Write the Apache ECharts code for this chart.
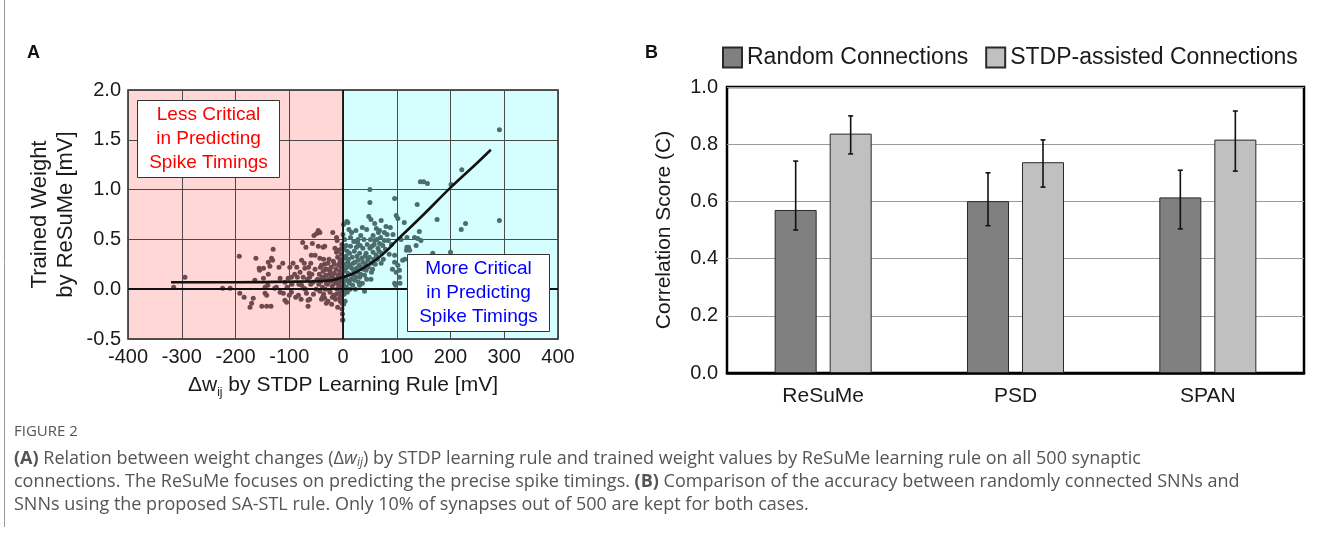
<!DOCTYPE html>
<html><head><meta charset="utf-8">
<script src="https://cdn.jsdelivr.net/npm/echarts@6/dist/echarts.min.js"></script>
<style>html,body{margin:0;padding:0;background:#fff}#c{width:1326px;height:533px}</style>
</head><body><div id="c"></div>
<script>
// ---------- Panel A data ----------
const xTicksA = [-400, -300, -200, -100, 0, 100, 200, 300, 400];
const yTicksA = [-0.5, 0.0, 0.5, 1.0, 1.5, 2.0];
// synapses with negative STDP weight change (less critical)
const negPoints = [
 [-315,0.02],[-294,0.12],[-224,0.01],[-210,0.01],[-193,0.33],[-192,-0.04],[-184,-0.08],[-173,-0.18],[-170,-0.14],[-167,-0.09],
 [-164,0.09],[-162,0.31],[-156,0.21],[-155,0.19],[-151,-0.17],[-148,0.11],[-148,0.21],[-145,-0.04],[-145,0.02],[-142,-0.06],
 [-142,-0.17],[-140,0.04],[-139,0.27],[-139,0.15],[-136,0.23],[-134,-0.17],[-133,0.31],[-131,0.29],[-130,0.40],[-127,0.01],
 [-124,0.02],[-119,0.22],[-117,0.11],[-117,-0.03],[-112,0.26],[-111,-0.04],[-108,-0.11],[-108,0.07],[-105,-0.13],[-104,0.02],
 [-102,0.11],[-100,-0.06],[-99,0.22],[-96,-0.03],[-96,0.12],[-95,0.05],[-93,0.26],[-90,0.15],[-88,-0.08],[-86,0.22],[-85,0.12],
 [-83,-0.06],[-82,0.05],[-80,0.17],[-78,-0.10],[-77,0.29],[-77,0.04],[-75,0.47],[-74,0.12],[-73,0.01],[-72,0.26],[-71,0.21],
 [-70,0.00],[-69,0.42],[-68,-0.04],[-66,0.10],[-65,-0.11],[-65,-0.17],[-64,0.22],[-63,0.16],[-62,-0.10],[-62,0.12],[-60,0.26],
 [-60,0.05],[-59,0.34],[-58,0.15],[-57,0.46],[-56,0.07],[-55,-0.05],[-54,0.54],[-52,0.34],[-52,0.20],[-50,0.00],[-49,0.09],
 [-49,0.56],[-47,0.10],[-46,0.59],[-46,0.43],[-45,0.05],[-44,0.15],[-43,0.57],[-43,0.31],[-43,-0.02],[-42,0.22],[-41,0.08],
 [-40,0.24],[-40,-0.10],[-39,0.12],[-38,-0.08],[-38,0.02],[-37,0.42],[-37,0.18],[-36,0.30],[-36,-0.05],[-35,0.10],[-34,0.43],
 [-34,0.25],[-34,-0.09],[-33,0.00],[-33,0.20],[-32,0.14],[-31,-0.14],[-31,0.06],[-30,0.20],[-29,0.05],[-28,0.26],[-28,-0.12],
 [-27,0.10],[-26,0.30],[-25,0.15],[-25,-0.01],[-24,-0.03],[-24,0.18],[-23,0.08],[-22,0.22],[-22,0.12],[-21,-0.15],[-20,0.03],
 [-20,-0.08],[-19,0.57],[-19,0.12],[-18,0.28],[-17,-0.06],[-16,0.16],[-16,0.25],[-15,0.41],[-15,0.06],[-14,-0.10],[-13,0.20],
 [-12,0.37],[-12,0.52],[-12,0.10],[-12,-0.05],[-11,0.49],[-11,0.00],[-10,0.32],[-10,-0.18],[-9,0.39],[-9,0.14],[-9,0.07],
 [-8,0.04],[-8,0.24],[-7,-0.04],[-7,0.13],[-6,0.27],[-6,0.18],[-6,0.08],[-6,-0.09],[-5,-0.12],[-5,0.30],[-4,0.12],[-4,0.02],
 [-4,0.40],[-3,0.22],[-3,-0.07],[-3,0.35],[-3,0.04],[-2,0.16],[-2,0.06],[-2,-0.20],[-2,0.45],[-2,0.00],[-2,-0.14],[-1,0.10],
 [-1,0.26],[-1,-0.02],[-1,-0.25],[-1,-0.31]
];
// synapses with positive STDP weight change (more critical)
const posPoints = [
 [0,-0.31],[0,0.55],[1,0.05],[1,0.18],[1,-0.15],[1,0.65],[2,-0.05],[2,0.25],[2,0.40],[3,0.31],[3,0.09],[3,0.12],[3,0.50],
 [4,-0.12],[4,0.20],[5,0.33],[5,0.00],[6,0.44],[6,0.02],[6,0.10],[7,0.68],[7,0.22],[8,-0.03],[8,0.38],[9,0.67],[9,0.27],
 [9,0.16],[10,0.08],[10,0.30],[11,0.15],[11,0.60],[12,0.36],[12,0.06],[13,0.00],[13,0.24],[14,0.43],[14,0.52],[15,0.10],
 [16,0.57],[16,0.21],[17,0.32],[18,0.04],[19,0.26],[19,0.14],[20,0.18],[20,0.48],[21,0.38],[22,0.09],[22,0.27],[23,0.00],
 [24,0.59],[24,0.12],[25,0.42],[25,0.21],[26,0.33],[27,0.17],[27,0.47],[28,0.29],[28,0.50],[29,0.07],[30,0.24],[31,0.36],
 [31,0.12],[31,0.04],[32,0.44],[33,0.54],[33,0.15],[34,0.22],[35,0.31],[36,0.06],[36,0.62],[37,0.41],[37,0.27],[38,0.20],
 [39,0.50],[40,0.14],[40,-0.02],[41,0.33],[42,0.25],[43,0.36],[43,0.19],[44,0.10],[44,0.60],[45,0.45],[46,0.29],[47,0.22],
 [48,0.73],[49,0.32],[50,1.00],[50,0.87],[50,0.41],[51,0.50],[52,0.10],[52,0.70],[53,0.26],[53,0.17],[54,0.43],[55,0.20],
 [56,0.54],[56,0.37],[57,0.30],[58,0.45],[59,0.49],[59,0.66],[60,0.25],[62,0.61],[62,0.34],[63,0.50],[64,0.30],[65,0.41],
 [66,0.57],[67,0.38],[68,0.59],[68,0.46],[70,0.52],[71,0.69],[71,0.26],[72,0.36],[74,0.44],[75,0.30],[77,0.49],[77,0.57],
 [79,0.40],[80,0.63],[82,0.55],[84,0.49],[86,0.35],[88,0.62],[90,0.45],[92,0.20],[93,0.55],[96,0.91],[96,0.34],[96,0.27],
 [96,0.06],[98,0.04],[99,0.74],[99,0.17],[102,0.71],[102,0.24],[105,0.19],[105,0.12],[106,0.06],[108,0.50],[111,0.29],
 [114,0.67],[115,0.30],[118,0.39],[119,0.52],[119,0.42],[122,0.42],[124,0.39],[133,0.52],[136,0.44],[138,0.85],[139,0.51],
 [142,0.58],[145,0.49],[144,1.08],[150,1.08],[157,1.06],[167,0.36],[175,0.70],[200,0.37],[201,1.05],[220,0.60],[221,1.20],
 [228,0.66],[291,0.69],[291,1.60]
];
// fitted trend curve
const fitCurve = [[-320,0.07],[-200,0.07],[-100,0.075],[-50,0.08],[-20,0.09],[0,0.12],[20,0.16],[40,0.22],[60,0.29],
 [80,0.38],[100,0.49],[150,0.75],[200,1.02],[250,1.27],[275,1.40]];

// ---------- Panel B data ----------
const methods = ['ReSuMe', 'PSD', 'SPAN'];
const yTicksB = [0.0, 0.2, 0.4, 0.6, 0.8, 1.0];
const randomScore = [0.570, 0.601, 0.614];
const randomLow   = [0.500, 0.515, 0.504];
const randomHigh  = [0.741, 0.700, 0.709];
const stdpScore   = [0.837, 0.737, 0.816];
const stdpLow     = [0.766, 0.650, 0.706];
const stdpHigh    = [0.899, 0.815, 0.916];

const FONT = '"Liberation Sans", Arial, sans-serif';
const CAP_FONT = '"Open Sans", "Noto Sans", sans-serif';
const chart = echarts.init(document.getElementById('c'), null, {renderer: 'canvas'});

function errSeries(name, low, high, offset) {
  return {
    type: 'custom', name: name + ' error', xAxisIndex: 1, yAxisIndex: 1, z: 5,
    data: methods.map((m, i) => [i, low[i], high[i]]),
    renderItem: function (params, api) {
      const top = api.coord([api.value(0), api.value(2)]);
      const bot = api.coord([api.value(0), api.value(1)]);
      const x = top[0] + offset;
      const st = {stroke: '#111', lineWidth: 1.6};
      return {type: 'group', children: [
        {type: 'line', shape: {x1: x, y1: top[1], x2: x, y2: bot[1]}, style: st},
        {type: 'line', shape: {x1: x - 2.5, y1: top[1], x2: x + 2.5, y2: top[1]}, style: st},
        {type: 'line', shape: {x1: x - 2.5, y1: bot[1], x2: x + 2.5, y2: bot[1]}, style: st}
      ]};
    }
  };
}

const capColor = '#555555';
const CAP_SIZE = 18;
const option = {
  animation: false,
  textStyle: {fontFamily: FONT},
  grid: [
    {left: 128, top: 90, width: 430, height: 249, show: true, borderColor: '#222', borderWidth: 1.5, backgroundColor: 'transparent'},
    {left: 727, top: 87, width: 577, height: 286, show: true, borderColor: '#000', borderWidth: 2.5}
  ],
  legend: {
    data: ['Random Connections', 'STDP-assisted Connections'],
    left: 717, top: 41, itemWidth: 19, itemHeight: 20, itemGap: 17, icon: 'rect',
    textStyle: {fontSize: 23, color: '#1a1a1a', fontFamily: FONT}
  },
  xAxis: [
    {type: 'value', gridIndex: 0, min: xTicksA[0], max: xTicksA[xTicksA.length - 1], interval: 100,
     axisLine: {show: false}, axisTick: {show: false},
     axisLabel: {fontSize: 20, color: '#1a1a1a', margin: 8},
     splitLine: {show: true, lineStyle: {color: '#4a4a4a', width: 1}},
     name: '{a|Δw}{s|ij}{a| by STDP Learning Rule [mV]}', nameLocation: 'middle', nameGap: 36,
     nameTextStyle: {rich: {a: {fontSize: 21, color: '#1a1a1a', fontFamily: FONT}, s: {fontSize: 12, color: '#1a1a1a', verticalAlign: 'bottom', padding: [0, 0, -3, 0], fontFamily: FONT}}}
    },
    {type: 'category', gridIndex: 1, data: methods,
     axisLine: {show: true, lineStyle: {color: '#000', width: 2.5}}, axisTick: {show: false},
     axisLabel: {fontSize: 21, color: '#1a1a1a', margin: 13}
    }
  ],
  yAxis: [
    {type: 'value', gridIndex: 0, min: yTicksA[0], max: yTicksA[yTicksA.length - 1], interval: 0.5,
     axisLine: {show: false}, axisTick: {show: false},
     axisLabel: {fontSize: 20, color: '#1a1a1a', margin: 7, formatter: v => v.toFixed(1)},
     splitLine: {show: true, lineStyle: {color: '#4a4a4a', width: 1}},
     name: 'Trained Weight\nby ReSuMe [mV]', nameLocation: 'middle', nameGap: 49, nameRotate: 90,
     nameTextStyle: {fontSize: 22, color: '#1a1a1a', lineHeight: 26, align: 'center'}
    },
    {type: 'value', gridIndex: 1, min: yTicksB[0], max: yTicksB[yTicksB.length - 1], interval: 0.2,
     axisLine: {show: false}, axisTick: {show: false},
     axisLabel: {fontSize: 20, color: '#1a1a1a', margin: 9, formatter: v => v.toFixed(1)},
     splitLine: {show: true, lineStyle: {color: '#9a9a9a', width: 1.2}},
     name: 'Correlation Score (C)', nameLocation: 'middle', nameGap: 52, nameRotate: 90,
     nameTextStyle: {fontSize: 21, color: '#1a1a1a'}
    }
  ],
  series: [
    {type: 'scatter', name: 'regions', xAxisIndex: 0, yAxisIndex: 0, data: [], z: -1, silent: true,
     markArea: {silent: true, z: -1, data: [
       [{xAxis: -400, yAxis: -0.5, itemStyle: {color: '#ffd7d7'}}, {xAxis: 0, yAxis: 2.0}],
       [{xAxis: 0, yAxis: -0.5, itemStyle: {color: '#d5ffff'}}, {xAxis: 400, yAxis: 2.0}]
     ]}
    },
    {type: 'scatter', name: 'neg', xAxisIndex: 0, yAxisIndex: 0, data: negPoints, symbolSize: 5,
     itemStyle: {color: '#6e4a4e', opacity: 1}, z: 3,
     markLine: {silent: true, symbol: 'none', label: {show: false}, lineStyle: {color: '#111', width: 1.8, type: 'solid'},
       data: [{xAxis: 0}, {yAxis: 0}]}
    },
    {type: 'scatter', name: 'pos', xAxisIndex: 0, yAxisIndex: 0, data: posPoints, symbolSize: 5,
     itemStyle: {color: '#4b6d6c', opacity: 1}, z: 3},
    {type: 'line', name: 'fit', xAxisIndex: 0, yAxisIndex: 0, data: fitCurve, smooth: 0.4, showSymbol: false,
     lineStyle: {color: '#111', width: 2.6}, z: 4},
    {type: 'bar', name: 'Random Connections', xAxisIndex: 1, yAxisIndex: 1, data: randomScore, barWidth: 42, barGap: '31%',
     itemStyle: {color: '#808080', borderColor: '#2a2a2a', borderWidth: 1}},
    {type: 'bar', name: 'STDP-assisted Connections', xAxisIndex: 1, yAxisIndex: 1, data: stdpScore, barWidth: 42, barGap: '31%',
     itemStyle: {color: '#c0c0c0', borderColor: '#2a2a2a', borderWidth: 1}},
    errSeries('Random', randomLow, randomHigh, -27.5),
    errSeries('STDP', stdpLow, stdpHigh, 27.5)
  ],
  graphic: [
    {type: 'line', shape: {x1: 4.5, y1: 0, x2: 4.5, y2: 527}, style: {stroke: '#9a9a9a', lineWidth: 1}},
    {type: 'text', left: 27, top: 44, style: {text: 'A', font: 'bold 18px ' + FONT, fill: '#111'}},
    {type: 'text', left: 645, top: 44, style: {text: 'B', font: 'bold 18px ' + FONT, fill: '#111'}},
    {type: 'rect', shape: {x: 137.5, y: 100.5, width: 142, height: 77}, style: {fill: '#fff', stroke: '#333', lineWidth: 1}, z: 10},
    {type: 'text', x: 208.5, y: 139, z: 11, style: {text: 'Less Critical\nin Predicting\nSpike Timings', align: 'center', verticalAlign: 'middle',
      font: '19px ' + FONT, lineHeight: 24, fill: '#ff0000'}},
    {type: 'rect', shape: {x: 407.5, y: 254.5, width: 142, height: 77}, style: {fill: '#fff', stroke: '#333', lineWidth: 1}, z: 10},
    {type: 'text', x: 478.5, y: 293, z: 11, style: {text: 'More Critical\nin Predicting\nSpike Timings', align: 'center', verticalAlign: 'middle',
      font: '19px ' + FONT, lineHeight: 24, fill: '#0000ff'}},
    {type: 'text', left: 14, top: 424, style: {text: 'FIGURE 2', font: '15px ' + CAP_FONT, fill: capColor}},
    {type: 'text', left: 14, top: 450, style: {
      text: '{b|(A)} Relation between weight changes (Δ{i|w}{s|ij}) by STDP learning rule and trained weight values by ReSuMe learning rule on all 500 synaptic',
      font: CAP_SIZE + 'px ' + CAP_FONT, fill: capColor,
      rich: {b: {fontWeight: 'bold', fontSize: CAP_SIZE, fontFamily: CAP_FONT, fill: capColor}, i: {fontStyle: 'italic', fontSize: CAP_SIZE, fontFamily: CAP_FONT, fill: capColor},
             s: {fontStyle: 'italic', fontSize: 12, fontFamily: CAP_FONT, fill: capColor, padding: [7, 0, 0, 0]}}}},
    {type: 'text', left: 14, top: 473, style: {
      text: 'connections. The ReSuMe focuses on predicting the precise spike timings. {b|(B)} Comparison of the accuracy between randomly connected SNNs and',
      font: CAP_SIZE + 'px ' + CAP_FONT, fill: capColor,
      rich: {b: {fontWeight: 'bold', fontSize: CAP_SIZE, fontFamily: CAP_FONT, fill: capColor}}}},
    {type: 'text', left: 14, top: 496, style: {
      text: 'SNNs using the proposed SA-STL rule. Only 10% of synapses out of 500 are kept for both cases.',
      font: CAP_SIZE + 'px ' + CAP_FONT, fill: capColor}}
  ]
};
chart.setOption(option);
</script>
</body></html>
